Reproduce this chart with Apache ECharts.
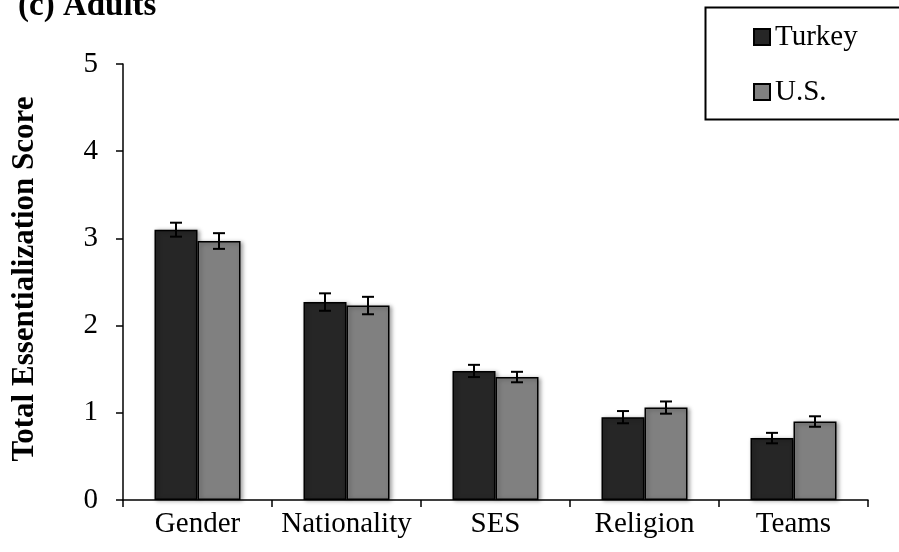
<!DOCTYPE html>
<html>
<head>
<meta charset="utf-8">
<script src="https://cdn.jsdelivr.net/npm/echarts@6/dist/echarts.min.js"></script>
<style>html,body{margin:0;padding:0;background:#fff}#c{width:899px;height:552px}</style>
</head>
<body>
<div id="c"></div>
<script>
const categories = ['Gender', 'Nationality', 'SES', 'Religion', 'Teams'];
const turkey = [3.10, 2.27, 1.48, 0.95, 0.71];
const us = [2.97, 2.23, 1.41, 1.06, 0.90];
const turkeyErr = [0.08, 0.10, 0.07, 0.07, 0.06];
const us_err = [0.09, 0.10, 0.06, 0.07, 0.06];
const yTicks = [0, 1, 2, 3, 4, 5];

const FONT = '"Liberation Serif", "Times New Roman", serif';
const BAR_W = 43;

function errData(vals, errs) {
  return vals.map((v, i) => [i, v - errs[i], v + errs[i]]);
}
function errSeries(name, vals, errs, offset) {
  return {
    type: 'custom',
    name: name + ' err',
    z: 10,
    silent: true,
    data: errData(vals, errs),
    encode: { x: 0, y: [1, 2] },
    renderItem: function (params, api) {
      const lo = api.coord([api.value(0), api.value(1)]);
      const hi = api.coord([api.value(0), api.value(2)]);
      const x = lo[0] + offset;
      const cap = 6;
      const st = { stroke: '#000', lineWidth: 2 };
      return {
        type: 'group',
        children: [
          { type: 'line', shape: { x1: x, y1: lo[1], x2: x, y2: hi[1] }, style: st },
          { type: 'line', shape: { x1: x - cap, y1: lo[1], x2: x + cap, y2: lo[1] }, style: st },
          { type: 'line', shape: { x1: x - cap, y1: hi[1], x2: x + cap, y2: hi[1] }, style: st }
        ]
      };
    }
  };
}

const chart = echarts.init(document.getElementById('c'), null, { renderer: 'canvas' });
const barStyle = (c) => ({
  color: c, borderColor: '#000', borderWidth: 1.5,
  shadowColor: 'rgba(0,0,0,0.35)', shadowBlur: 4, shadowOffsetX: 2, shadowOffsetY: 1
});
chart.setOption({
  animation: false,
  backgroundColor: '#fff',
  grid: { left: 123, right: 31, top: 64, bottom: 52, containLabel: false },
  title: {
    text: '(c) Adults', left: 13, top: -15,
    textStyle: { fontFamily: FONT, fontWeight: 'bold', fontSize: 33, color: '#000' }
  },
  legend: {
    orient: 'vertical', left: 748, top: 17,
    icon: 'rect',
    itemWidth: 16, itemHeight: 16, itemGap: 25,
    data: ['Turkey', 'U.S.'],
    textStyle: { fontFamily: FONT, fontSize: 29, color: '#000', lineHeight: 30 }
  },
  graphic: [
    { type: 'rect', left: 703, top: 5, shape: { width: 210, height: 112 },
      style: { fill: 'none', stroke: '#000', lineWidth: 2 }, z: 100 },
    { type: 'text', x: 25, y: 279, rotation: Math.PI / 2,
      style: { text: 'Total Essentialization Score', align: 'center', verticalAlign: 'middle',
        font: 'bold 31px ' + FONT, fill: '#000' } }
  ],
  xAxis: {
    type: 'category', data: categories,
    axisLine: { lineStyle: { color: '#000', width: 1.5 } },
    axisTick: { show: true, length: 7, lineStyle: { color: '#000', width: 1.5 } },
    axisLabel: { interval: 0, fontFamily: FONT, fontSize: 29, color: '#000', margin: 10 }
  },
  yAxis: {
    type: 'value', min: yTicks[0], max: yTicks[yTicks.length - 1], interval: 1,
    splitLine: { show: false },
    axisLine: { show: true, lineStyle: { color: '#000', width: 1.5 } },
    axisTick: { show: true, length: 7, lineStyle: { color: '#000', width: 1.5 } },
    axisLabel: { fontFamily: FONT, fontSize: 29, color: '#000', margin: 25 }
  },
  series: [
    { type: 'bar', name: 'Turkey', data: turkey, barWidth: BAR_W, barGap: '0%', itemStyle: barStyle('#262626') },
    { type: 'bar', name: 'U.S.', data: us, barWidth: BAR_W, barGap: '0%', itemStyle: barStyle('#808080') },
    errSeries('Turkey', turkey, turkeyErr, -BAR_W / 2),
    errSeries('U.S.', us, us_err, BAR_W / 2)
  ]
});
</script>
</body>
</html>
